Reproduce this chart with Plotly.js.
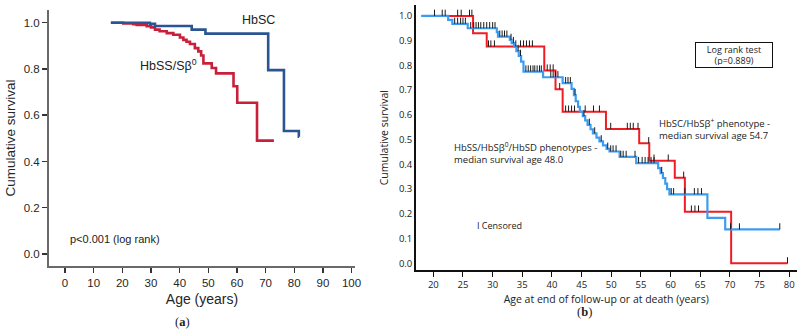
<!DOCTYPE html>
<html>
<head>
<meta charset="utf-8">
<script src="https://cdn.plot.ly/plotly-3.0.1.min.js"></script>
<style>
  html, body { margin: 0; padding: 0; background: #fff; }
  #chart { width: 800px; height: 330px; }
</style>
</head>
<body>
<div id="chart"></div>
<script>
// ---- Panel (a): survival by genotype, age in years ----
const aHbSCAge  = [16.0, 29.6, 31.4, 44.2, 49.0, 70.9, 76.4, 81.6];
const aHbSCSurv = [1.000, 0.995, 0.986, 0.970, 0.953, 0.795, 0.532, 0.507];
const aHbSCEnd  = 81.7;

const aHbSSAge  = [16.0, 20.3, 23.8, 25.0, 28.5, 30.0, 31.4, 33.0, 35.5, 37.8, 40.1, 41.3, 42.4,
                   43.6, 45.3, 46.5, 47.5, 48.3, 51.2, 52.7, 58.8, 60.1, 67.0];
const aHbSSSurv = [1.000, 0.997, 0.994, 0.990, 0.985, 0.980, 0.970, 0.963, 0.955, 0.948, 0.936, 0.926, 0.918,
                   0.908, 0.890, 0.876, 0.858, 0.824, 0.804, 0.781, 0.725, 0.654, 0.490];
const aHbSSEnd  = 72.9;

const aXTicks = [0, 10, 20, 30, 40, 50, 60, 70, 80, 90, 100];
const aYTicks = [0, 0.2, 0.4, 0.6, 0.8, 1.0];

// ---- Panel (b): survival by phenotype group, age at end of follow-up or death ----
const bSSAge  = [18.0, 22.5, 23.2, 25.8, 30.7, 30.9, 32.9, 33.2, 33.6, 34.0, 34.4, 34.8, 35.2, 38.5,
                 41.8, 43.3, 43.7, 44.0, 44.4, 44.7, 45.2, 45.6, 46.0, 46.5, 46.9, 47.5, 48.0, 48.6,
                 49.2, 49.7, 51.4, 54.2, 57.9, 58.3, 58.7, 59.1, 59.4, 59.8, 66.2, 69.2];
const bSSSurv = [1.000, 0.984, 0.968, 0.950, 0.934, 0.916, 0.903, 0.890, 0.876, 0.858, 0.838, 0.815, 0.775, 0.752,
                 0.728, 0.705, 0.680, 0.655, 0.632, 0.613, 0.595, 0.578, 0.560, 0.542, 0.525, 0.508, 0.493, 0.477,
                 0.463, 0.452, 0.430, 0.405, 0.385, 0.365, 0.345, 0.322, 0.300, 0.279, 0.184, 0.137];
const bSSEnd  = 78.4;
const bSSCensored = [20.2, 21.5, 22.0, 23.6, 24.1, 24.6, 25.0, 25.4,
                     26.3, 26.8, 27.2, 27.6, 28.0, 28.5, 29.0, 29.5, 30.0, 30.4,
                     31.2, 31.6, 32.0, 32.4, 33.1, 33.5, 33.9, 34.3, 34.7,
                     35.6, 36.0, 36.4, 36.8, 37.1, 37.5, 37.9, 38.2,
                     39.8, 40.2, 40.6, 41.0, 42.3, 42.7, 43.1,
                     43.9, 45.4, 46.3, 47.2, 48.3, 49.4, 49.9, 50.3, 50.8,
                     51.6, 52.0, 52.5, 54.0, 54.6, 55.2, 55.7, 56.2, 56.7, 57.2,
                     58.5, 60.1, 60.5, 62.4, 64.0, 64.6, 65.2, 70.1, 71.6, 78.4];

const bSCAge  = [18.0, 26.7, 29.0, 38.7, 40.6, 41.8, 49.1, 54.7, 56.4, 60.7, 62.4, 70.2];
const bSCSurv = [1.000, 0.930, 0.876, 0.779, 0.704, 0.613, 0.543, 0.485, 0.415, 0.346, 0.209, 0.000];
const bSCEnd  = 79.7;
const bSCCensored = [24.1, 24.7, 26.1, 26.5, 29.3, 29.7, 30.3, 34.7, 35.2, 35.7, 36.2, 36.7,
                     39.2, 39.7, 40.2, 41.3, 42.3, 42.8, 43.3, 43.8, 45.6, 47.0, 48.0,
                     49.9, 52.7, 53.2, 53.7, 54.5, 56.3, 57.2, 59.6, 62.2,
                     63.5, 64.1, 64.7, 79.7];

const bXTicks = [20, 25, 30, 35, 40, 45, 50, 55, 60, 65, 70, 75, 80];
const bYTicks = [0, 0.1, 0.2, 0.3, 0.4, 0.5, 0.6, 0.7, 0.8, 0.9, 1.0];

// ---- helpers ----
const W = 800, H = 330;
const px = x => x / W;          // pixel column -> paper fraction
const py = y => 1 - y / H;      // pixel row -> paper fraction

// step curve: value held until the next event, then extended to the last follow-up
function stepXY(ages, surv, end) {
  return { x: ages.concat([end]), y: surv.concat([surv[surv.length - 1]]) };
}
// Kaplan-Meier value at time t
function survAt(ages, surv, t) {
  let s = surv[0];
  for (let i = 0; i < ages.length; i++) { if (ages[i] <= t) s = surv[i]; }
  return s;
}

const sans = '"Liberation Sans", Arial, Helvetica, sans-serif';
const humanist = '"Open Sans", "Noto Sans", sans-serif';
const serif = '"Liberation Serif", "Times New Roman", serif';

const aSC = stepXY(aHbSCAge, aHbSCSurv, aHbSCEnd);
const aSS = stepXY(aHbSSAge, aHbSSSurv, aHbSSEnd);
const bSS = stepXY(bSSAge, bSSSurv, bSSEnd);
const bSC = stepXY(bSCAge, bSCSurv, bSCEnd);

// censored observations: short upward tick sitting on the curve
function censorTrace(times, ages, surv) {
  return {
    x: times, y: times.map(t => survAt(ages, surv, t)),
    xaxis: 'x2', yaxis: 'y2', type: 'scatter', mode: 'markers',
    marker: { size: 1, color: 'rgba(0,0,0,0)' },
    error_y: { type: 'constant', symmetric: false, value: 0.025, valueminus: 0,
               width: 0, thickness: 1, color: '#1a1a1a' },
    hoverinfo: 'skip', showlegend: false
  };
}

const traces = [
  { x: aSS.x, y: aSS.y, type: 'scatter', mode: 'lines', line: { shape: 'hv', color: '#c8203a', width: 2.6 },
    xaxis: 'x', yaxis: 'y', name: 'HbSS/Sβ0', showlegend: false },
  { x: aSC.x, y: aSC.y, type: 'scatter', mode: 'lines', line: { shape: 'hv', color: '#2b5592', width: 2.6 },
    xaxis: 'x', yaxis: 'y', name: 'HbSC', showlegend: false },
  { x: bSC.x, y: bSC.y, type: 'scatter', mode: 'lines', line: { shape: 'hv', color: '#f01c24', width: 2 },
    xaxis: 'x2', yaxis: 'y2', name: 'HbSC/HbSβ+', showlegend: false },
  { x: bSS.x, y: bSS.y, type: 'scatter', mode: 'lines', line: { shape: 'hv', color: '#3d9cf0', width: 2.2 },
    xaxis: 'x2', yaxis: 'y2', name: 'HbSS/HbSβ0/HbSD', showlegend: false },
  censorTrace(bSSCensored, bSSAge, bSSSurv),
  censorTrace(bSCCensored, bSCAge, bSCSurv)
];

const ann = (text, x, y, xanchor, size, family, extra) => Object.assign({
  text: text, xref: 'paper', yref: 'paper', x: px(x), y: py(y), xanchor: xanchor, yanchor: 'middle',
  align: xanchor === 'left' ? 'left' : 'center',
  showarrow: false, font: { family: family, size: size, color: '#222' }
}, extra || {});

const layout = {
  width: W, height: H,
  margin: { l: 0, r: 0, t: 0, b: 0 },
  paper_bgcolor: '#fff', plot_bgcolor: '#fff',
  showlegend: false,
  xaxis: {
    domain: [px(49), px(355)], range: [-5.6, 101.2], anchor: 'y',
    tickvals: aXTicks, ticks: 'outside', ticklen: 5, tickwidth: 1.5, tickcolor: '#333',
    showline: true, linecolor: '#6a6a6a', linewidth: 2, showgrid: false, zeroline: false,
    tickfont: { family: sans, size: 11.5, color: '#262626' },
    title: { text: 'Age (years)', font: { family: sans, size: 14, color: '#262626' }, standoff: 6 },
    automargin: false
  },
  yaxis: {
    domain: [py(266), py(10)], range: [-0.052, 1.055], anchor: 'x',
    tickvals: aYTicks, tickformat: '.1f', ticks: 'outside', ticklen: 5, tickwidth: 1.5, tickcolor: '#333',
    showline: true, linecolor: '#6a6a6a', linewidth: 2, showgrid: false, zeroline: false,
    tickfont: { family: sans, size: 11.5, color: '#262626' },
    title: { text: 'Cumulative survival', font: { family: sans, size: 13.5, color: '#262626' }, standoff: 5 },
    automargin: false
  },
  xaxis2: {
    domain: [px(415.7), px(796.7)], range: [17.03, 81.25], anchor: 'y2',
    tickvals: bXTicks, ticks: 'outside', ticklen: 5, tickwidth: 1, tickcolor: '#111',
    showline: true, linecolor: '#111', linewidth: 1.5, showgrid: false, zeroline: false,
    tickfont: { family: humanist, size: 9.5, color: '#222' },
    title: { text: 'Age at end of follow-up or at death (years)', font: { family: humanist, size: 10.5, color: '#222' }, standoff: 5 },
    automargin: false
  },
  yaxis2: {
    domain: [py(270.3), py(5)], range: [-0.028, 1.044], anchor: 'x2',
    tickvals: bYTicks, tickformat: '.1f', ticks: '', ticklen: 0,
    showline: true, linecolor: '#111', linewidth: 1.5, showgrid: false, zeroline: false,
    tickfont: { family: humanist, size: 9.5, color: '#222' },
    title: { text: 'Cumulative survival', font: { family: humanist, size: 10.5, color: '#222' }, standoff: 8 },
    automargin: false
  },
  annotations: [
    ann('HbSC', 258, 20, 'center', 12.5, sans),
    ann('HbSS/Sβ<sup>0</sup>', 138, 65, 'left', 12.5, sans),
    ann('p&lt;0.001 (log rank)', 68, 239, 'left', 11, sans),
    ann('(<b>a</b>)', 182.7, 322, 'center', 12.5, serif),
    ann('(<b>b</b>)', 584, 312, 'center', 12.5, serif),
    ann('Log rank test<br>(p=0.889)', 733.7, 54.5, 'center', 9, humanist,
        { bordercolor: '#111', borderwidth: 1, borderpad: 2, width: 72, height: 20, bgcolor: '#fff' }),
    ann('HbSC/HbSβ<sup>+</sup> phenotype -<br>median survival age 54.7', 656.7, 129, 'left', 9.5, humanist),
    ann('HbSS/HbSβ<sup>0</sup>/HbSD phenotypes -<br>median survival age 48.0', 451.7, 153.5, 'left', 9.5, humanist),
    ann('I Censored', 475, 225.7, 'left', 9, humanist)
  ]
};

Plotly.newPlot('chart', traces, layout, { staticPlot: true, displayModeBar: false });
</script>
</body>
</html>
